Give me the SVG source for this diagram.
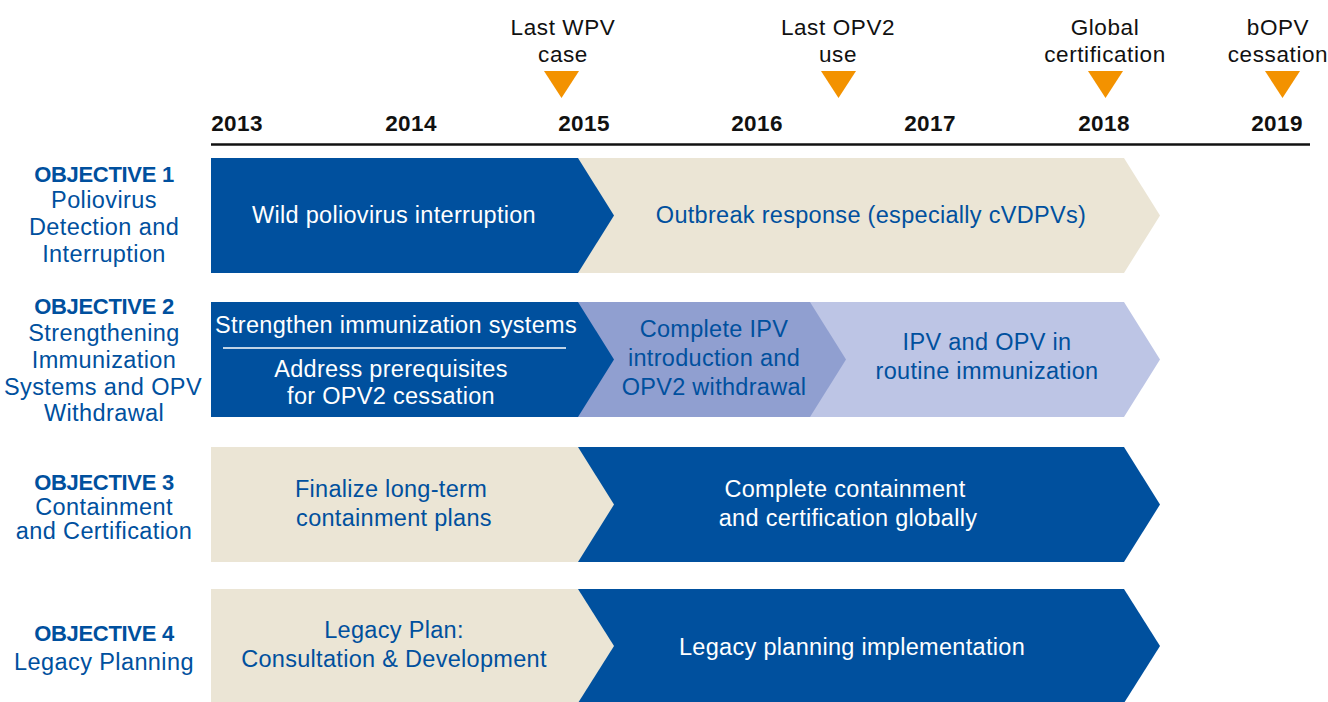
<svg xmlns="http://www.w3.org/2000/svg" width="1328" height="702" viewBox="0 0 1328 702">
<defs>
<style>
text{font-family:"Liberation Sans",Arial,sans-serif;font-size:23.5px;text-anchor:middle;letter-spacing:0.3px}
.yr{font-weight:bold;fill:#111;font-size:22.5px;letter-spacing:0.4px}
.ms{fill:#111;font-size:22.5px;letter-spacing:0.6px}
.obj{fill:#00509E;letter-spacing:0.4px}
.objb{fill:#00509E;font-weight:bold;font-size:22px;letter-spacing:-0.3px}
.w{fill:#fff}
.b{fill:#00509E}
.dark{fill:#00509E}
.beige{fill:#EBE5D5}
.mid{fill:#909FD0}
.light{fill:#BDC5E5}
.tri{fill:#F39200}
</style>
</defs>
<rect width="1328" height="702" fill="#fff"/>
<g id="timeline">
<line x1="211" y1="144.5" x2="1310" y2="144.5" stroke="#111" stroke-width="2.5"/>
<text class="yr" x="237" y="131">2013</text>
<text class="yr" x="411" y="131">2014</text>
<text class="yr" x="584" y="131">2015</text>
<text class="yr" x="757" y="131">2016</text>
<text class="yr" x="930" y="131">2017</text>
<text class="yr" x="1104" y="131">2018</text>
<text class="yr" x="1277" y="131">2019</text>
</g>
<g id="milestone-wpv">
<text class="ms" x="563" y="35">Last WPV</text>
<text class="ms" x="563" y="62">case</text>
<polygon class="tri" points="544,71 579,71 561.5,98"/>
</g>
<g id="milestone-opv2">
<text class="ms" x="838" y="35">Last OPV2</text>
<text class="ms" x="838" y="62">use</text>
<polygon class="tri" points="821,71 856,71 838.5,98"/>
</g>
<g id="milestone-cert">
<text class="ms" x="1105" y="35">Global</text>
<text class="ms" x="1105" y="62">certification</text>
<polygon class="tri" points="1088,71 1123,71 1105.5,98"/>
</g>
<g id="milestone-bopv">
<text class="ms" x="1278" y="35">bOPV</text>
<text class="ms" x="1278" y="62">cessation</text>
<polygon class="tri" points="1265,71 1300,71 1282.5,98"/>
</g>
<g id="objective1">
<text class="objb" x="104" y="182">OBJECTIVE 1</text>
<text class="obj" x="104" y="208">Poliovirus</text>
<text class="obj" x="104" y="235">Detection and</text>
<text class="obj" x="104" y="262">Interruption</text>
</g>
<g id="objective2">
<text class="objb" x="104" y="314">OBJECTIVE 2</text>
<text class="obj" x="104" y="341">Strengthening</text>
<text class="obj" x="104" y="368">Immunization</text>
<text class="obj" x="103" y="395">Systems and OPV</text>
<text class="obj" x="104" y="421">Withdrawal</text>
</g>
<g id="objective3">
<text class="objb" x="104" y="490">OBJECTIVE 3</text>
<text class="obj" x="104" y="515">Containment</text>
<text class="obj" x="104" y="539">and Certification</text>
</g>
<g id="objective4">
<text class="objb" x="104" y="641">OBJECTIVE 4</text>
<text class="obj" x="104" y="670">Legacy Planning</text>
</g>
<g id="r1-outbreak">
<polygon class="beige" points="560,158 1124,158 1160,215.5 1124,273 560,273"/>
<text class="b" x="871" y="223">Outbreak response (especially cVDPVs)</text>
</g>
<g id="r1-wild">
<polygon class="dark" points="211,158 578,158 614,215.5 578,273 211,273"/>
<text class="w" x="394" y="223">Wild poliovirus interruption</text>
</g>
<g id="r2-routine">
<polygon class="light" points="800,302 1124,302 1160,359.5 1124,417 800,417"/>
<text class="b" x="987" y="350">IPV and OPV in</text>
<text class="b" x="987" y="379">routine immunization</text>
</g>
<g id="r2-ipv">
<polygon class="mid" points="560,302 810,302 846,359.5 810,417 560,417"/>
<text class="b" x="714" y="337">Complete IPV</text>
<text class="b" x="714" y="366">introduction and</text>
<text class="b" x="714" y="395">OPV2 withdrawal</text>
</g>
<g id="r2-strengthen">
<polygon class="dark" points="211,302 578,302 614,359.5 578,417 211,417"/>
<text class="w" x="396" y="333">Strengthen immunization systems</text>
<line x1="223" y1="348" x2="566" y2="348" stroke="#fff" stroke-width="1.5"/>
<text class="w" x="391" y="377">Address prerequisites</text>
<text class="w" x="391" y="404">for OPV2 cessation</text>
</g>
<g id="r3-complete">
<polygon class="dark" points="560,447 1124,447 1160,504.5 1124,562 560,562"/>
<text class="w" x="845" y="497">Complete containment</text>
<text class="w" x="848" y="526">and certification globally</text>
</g>
<g id="r3-finalize">
<polygon class="beige" points="211,447 578,447 614,504.5 578,562 211,562"/>
<text class="b" x="391" y="497">Finalize long-term</text>
<text class="b" x="394" y="526">containment plans</text>
</g>
<g id="r4-implementation">
<polygon class="dark" points="560,589 1124,589 1160,646 1124,703 560,703"/>
<text class="w" x="852" y="655">Legacy planning implementation</text>
</g>
<g id="r4-plan">
<polygon class="beige" points="211,589 578,589 614,646 578,703 211,703"/>
<text class="b" x="394" y="638">Legacy Plan:</text>
<text class="b" x="394" y="667">Consultation &amp; Development</text>
</g>
<g id="connectors"/>
</svg>
